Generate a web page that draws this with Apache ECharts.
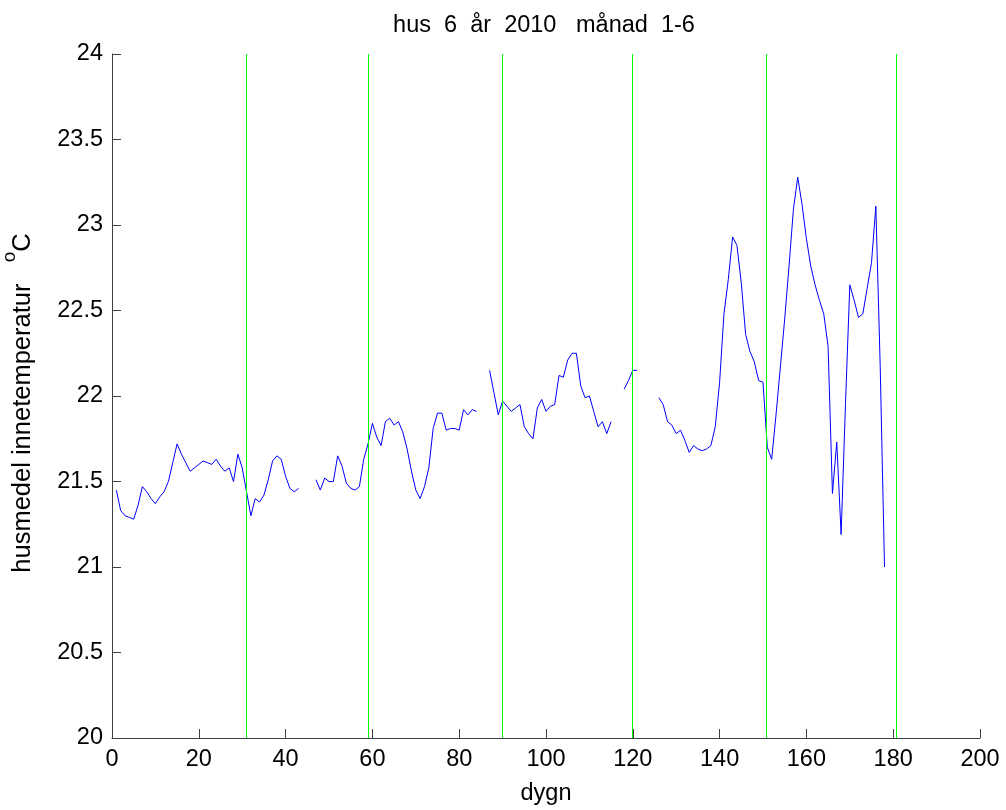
<!DOCTYPE html>
<html>
<head>
<meta charset="utf-8">
<script src="https://cdn.jsdelivr.net/npm/echarts@6/dist/echarts.min.js"></script>
<style>
html,body{margin:0;padding:0;background:#fff;}
#c{width:1006px;height:810px;}
</style>
</head>
<body>
<div id="c"></div>
<script>
// day numbers 1..178 (null = missing day)
const days = [];
for (let d = 1; d <= 178; d++) days.push(d);

const temps = [
  21.45,21.33,21.30,21.29,21.28,21.36,21.47,21.44,21.40,21.37, // 1-10
  21.41,21.44,21.50,21.61,21.72,21.66,21.61,21.56,21.58,21.60, // 11-20
  21.62,21.61,21.60,21.63,21.59,21.56,21.58,21.50,21.66,21.58, // 21-30
  21.44,21.30,21.40,21.38,21.42,21.51,21.62,21.65,21.63,21.53, // 31-40
  21.46,21.44,21.46,null,null,null,21.51,21.45,21.52,21.50,    // 41-50
  21.50,21.65,21.59,21.49,21.46,21.45,21.47,21.63,21.72,21.84, // 51-60
  21.76,21.71,21.85,21.87,21.83,21.85,21.79,21.69,21.56,21.45, // 61-70
  21.40,21.47,21.58,21.81,21.90,21.90,21.80,21.81,21.81,21.80, // 71-80
  21.92,21.89,21.92,21.91,null,null,22.15,22.02,21.89,21.97,   // 81-90
  21.94,21.91,21.93,21.95,21.82,21.78,21.75,21.93,21.98,21.91, // 91-100
  21.94,21.95,22.12,22.11,22.21,22.25,22.25,22.06,21.99,22.00, // 101-110
  21.91,21.82,21.85,21.78,21.85,null,null,22.04,22.09,22.15,   // 111-120
  22.15,null,null,null,null,21.99,21.95,21.85,21.83,21.78,     // 121-130
  21.80,21.74,21.67,21.71,21.69,21.68,21.69,21.71,21.82,22.08, // 131-140
  22.48,22.68,22.93,22.88,22.66,22.36,22.26,22.20,22.09,22.08, // 141-150
  21.70,21.63,21.89,22.17,22.45,22.76,23.09,23.28,23.12,22.92, // 151-160
  22.76,22.65,22.56,22.48,22.29,21.43,21.73,21.19,21.95,22.65, // 161-170
  22.56,22.46,22.48,22.63,22.78,23.11,22.18,21.00              // 171-178
];

const monthEnds = [31, 59, 90, 120, 151, 181];
const yRange = [20, 24];

const titleText = 'hus  6  år  2010   månad  1-6';
const xName = 'dygn';
const yNameMain = 'husmedel innetemperatur   ';
const yNameSup = 'o';
const yNameUnit = 'C';

const FONT = '"Liberation Sans", Arial, Helvetica, sans-serif';
const FS = 23.5;

const chart = echarts.init(document.getElementById('c'), null, {renderer: 'canvas'});

chart.setOption({
  animation: false,
  backgroundColor: '#fff',
  textStyle: {fontFamily: FONT},
  title: {
    text: titleText,
    left: 544,
    textAlign: 'center',
    top: 14,
    padding: 0,
    textStyle: {fontSize: FS, fontWeight: 'normal', color: '#000', fontFamily: FONT}
  },
  grid: {left: 112, right: 26, top: 54, bottom: 72, containLabel: false, outerBoundsMode: 'none'},
  xAxis: {
    type: 'value',
    min: 0, max: 200, interval: 20,
    name: xName,
    nameLocation: 'middle',
    nameGap: 44,
    nameTextStyle: {fontSize: FS, color: '#000', fontFamily: FONT},
    axisLine: {show: true, onZero: false, lineStyle: {color: '#404040', width: 1}},
    axisTick: {show: true, inside: true, length: 9, lineStyle: {color: '#404040'}},
    axisLabel: {fontSize: FS, color: '#000', margin: 10, fontFamily: FONT},
    splitLine: {show: false}
  },
  yAxis: {
    type: 'value',
    min: yRange[0], max: yRange[1], interval: 0.5,
    name: '{t|' + yNameMain + '}{s|' + yNameSup + '}{t|' + yNameUnit + '}',
    nameLocation: 'middle',
    nameRotate: 90,
    nameGap: 66,
    nameTextStyle: {
      color: '#000',
      padding: [0, 14, 0, 0],
      rich: {
        t: {fontSize: 25.5, fontFamily: FONT, color: '#000', lineHeight: 46, verticalAlign: 'middle'},
        s: {fontSize: 19, fontFamily: FONT, color: '#000', lineHeight: 19, verticalAlign: 'top'}
      }
    },
    axisLine: {show: true, onZero: false, lineStyle: {color: '#404040', width: 1}},
    axisTick: {show: true, inside: true, length: 9, lineStyle: {color: '#404040'}},
    axisLabel: {fontSize: FS, color: '#000', margin: 9, fontFamily: FONT},
    splitLine: {show: false}
  },
  series: [{
    type: 'line',
    data: days.map((d, i) => [d, temps[i]]),
    showSymbol: false,
    symbol: 'none',
    connectNulls: false,
    lineStyle: {color: '#0000ff', width: 1},
    z: 2
  }, {
    type: 'custom',
    silent: true,
    z: 3,
    data: monthEnds,
    renderItem: function (params, api) {
      const v = api.value(0);
      const p0 = api.coord([v, yRange[0]]);
      const p1 = api.coord([v, yRange[1]]);
      // snap to a whole pixel column so the 1px line stays crisp
      const x = 2 * Math.round((p0[0] - 1) / 2) + 0.5;
      return {
        type: 'line',
        shape: {x1: x, y1: p0[1], x2: x, y2: p1[1]},
        style: {stroke: '#00ff00', lineWidth: 1}
      };
    }
  }]
});
</script>
</body>
</html>
